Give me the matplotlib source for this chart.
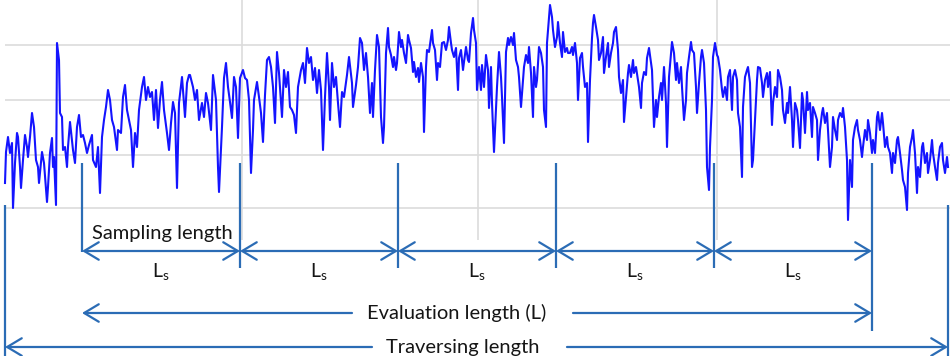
import matplotlib
matplotlib.use('Agg')
import matplotlib.pyplot as plt
import numpy as np

plt.rcParams['font.family'] = ['Lato', 'DejaVu Sans']

# surface profile readings: position along the trace and depth below the top reference
position = [
    5, 6, 8, 10, 12, 13, 15, 17, 18, 20, 21, 23, 25, 27, 28, 30, 32, 34, 36, 38,
    39, 42, 44, 47, 48, 50, 52, 53, 54, 56, 57, 59, 60, 62, 63, 65, 67, 68, 70, 72,
    73, 75, 77, 79, 81, 83, 85, 87, 89, 92, 93, 96, 98, 100, 102, 104, 106, 108, 110, 112,
    114, 117, 118, 121, 123, 125, 127, 129, 131, 133, 135, 137, 139, 142, 144, 146, 148, 150, 152, 154,
    156, 158, 160, 162, 164, 167, 169, 171, 173, 175, 177, 179, 182, 183, 185, 187, 189,
    190, 193, 195, 197, 199, 202, 204, 206, 208, 211, 213, 216, 218, 219, 222, 224, 226, 228, 230, 232,
    234, 236, 238, 240, 243, 245, 247, 249, 251, 253, 254, 257, 259, 261, 263, 265, 267, 269, 271, 273,
    275, 277, 279, 282, 284, 286, 288, 290, 292, 294, 296, 298, 301, 303, 305, 307, 309, 311, 313, 315,
    317, 319, 321, 323, 325, 327, 329, 330, 332, 334, 336, 338, 340, 342, 344, 347, 349, 352, 353, 356,
    358, 360, 362, 364, 366, 368, 370, 372, 373, 375, 377, 379,
    381, 383, 384, 386, 388, 389, 391, 393, 394, 396, 397, 399, 401, 402, 404, 406, 408, 409, 411, 413,
    414, 416, 418, 419, 421, 423, 424, 426, 427, 429, 432, 433, 435, 437, 438, 440, 442, 444, 446, 448,
    449, 451, 452, 454, 456, 458, 459, 461, 463, 464, 466, 468, 469, 471, 473, 474, 476, 477, 479, 481,
    482, 484, 486, 488, 489, 491, 492, 494, 496, 497, 499, 501, 502, 504, 506, 508, 509, 511, 513, 514,
    516, 518, 519, 521, 523, 524, 526, 528, 529, 531, 533, 534, 536, 537, 539, 541, 543, 544, 546, 547,
    549, 550, 552, 553, 555, 557, 558, 560, 562, 563, 565, 567, 568,
    570, 572, 573, 575, 577, 578, 580, 582, 583, 585, 587, 588, 590, 592, 593, 594, 596, 598, 599, 601,
    603, 604, 606, 608, 609, 611, 613, 614, 616, 618, 619, 621, 623, 624, 626, 628, 629, 631, 633, 634,
    636, 638, 639, 641, 642, 644, 646, 647, 649, 651, 652, 654, 656, 657, 659, 661, 662, 664, 666, 667,
    669, 671, 672, 674, 676, 677, 679, 681, 682, 684, 686, 687, 689, 691, 692, 694, 696, 697, 699, 701,
    702, 704, 706, 707, 709, 710, 712, 713, 715, 717, 718, 720, 722, 723, 725, 727, 728, 730, 732, 733,
    735, 737, 738, 740, 742, 743, 745, 747, 748, 750, 752, 753, 755, 757, 758,
    760, 762, 763, 765, 767, 768, 770, 772, 773, 775, 777, 778, 780, 782, 783, 785, 787, 788, 790, 792,
    793, 795, 797, 798, 800, 802, 803, 805, 807, 808, 810, 812, 813, 815, 817, 818, 820, 822, 823, 825,
    827, 828, 830, 832, 833, 835, 837, 838, 840, 842, 843, 845, 847, 848, 850, 852, 853, 855, 857, 858,
    860, 862, 863, 865, 867, 868, 870, 872, 873, 875, 877, 878, 880, 882, 883, 885, 887, 888, 890, 892,
    893, 895, 897, 898, 900, 902, 903, 905, 907, 908, 910, 912, 913, 915, 917, 918, 920, 922, 923, 925,
    927, 928, 930, 932, 933, 935, 937, 938, 940, 942, 943, 945, 947, 948,
]
depth = [
    183, 152, 137, 153, 143, 208, 163, 133, 137, 167, 188, 160, 135, 147, 157, 137, 113, 127, 160, 167,
    183, 152, 163, 202, 187, 153, 138, 167, 157, 205, 43, 60, 113, 117, 150, 147, 167, 147, 122, 140,
    150, 163, 127, 115, 137, 135, 143, 153, 145, 135, 160, 167, 147, 193, 137, 120, 107, 90, 100, 120,
    127, 150, 130, 133, 97, 85, 110, 120, 130, 167, 133, 147, 110, 87, 77, 100, 87, 97, 92, 120,
    90, 128, 100, 82, 110, 133, 150, 123, 102, 113, 188, 103, 77, 90, 117, 83, 75,
    75, 87, 100, 90, 120, 103, 117, 93, 103, 130, 75, 100, 167, 192, 127, 78, 63, 87, 102, 118,
    77, 87, 138, 78, 70, 78, 80, 100, 173, 130, 100, 82, 97, 113, 142, 95, 60, 57, 67, 87,
    123, 52, 73, 117, 70, 87, 72, 107, 110, 115, 133, 87, 70, 63, 83, 48, 63, 57, 80, 68,
    93, 70, 90, 150, 97, 53, 87, 120, 63, 87, 77, 103, 127, 92, 97, 75, 57, 83, 107, 85,
    67, 38, 43, 70, 53, 77, 113, 83, 117, 70, 35, 47,
    117, 143, 127, 53, 28, 47, 55, 67, 57, 70, 63, 32, 47, 40, 53, 63, 35, 40, 48, 72,
    62, 77, 68, 82, 63, 77, 132, 67, 50, 52, 30, 43, 50, 80, 63, 67, 43, 42, 50, 40,
    27, 43, 50, 57, 48, 90, 58, 50, 70, 62, 47, 60, 62, 33, 18, 30, 43, 90, 67, 90,
    65, 87, 55, 70, 108, 67, 103, 152, 110, 87, 52, 77, 97, 143, 52, 38, 45, 37, 45, 33,
    60, 67, 77, 107, 80, 67, 55, 63, 47, 73, 117, 67, 87, 80, 47, 53, 67, 110, 127, 43,
    17, 5, 17, 30, 47, 37, 22, 43, 57, 32, 52, 48, 53,
    53, 47, 55, 43, 63, 100, 58, 53, 67, 87, 83, 142, 80, 38, 23, 15, 27, 40, 60, 53,
    37, 73, 57, 43, 67, 53, 43, 32, 27, 50, 77, 93, 80, 122, 97, 73, 65, 77, 60, 73,
    67, 80, 87, 108, 83, 72, 75, 58, 48, 63, 70, 127, 100, 117, 97, 83, 100, 67, 103, 147,
    77, 53, 42, 53, 80, 63, 83, 67, 87, 120, 100, 73, 57, 42, 50, 53, 87, 113, 83, 57,
    50, 63, 110, 167, 190, 147, 100, 57, 43, 55, 57, 70, 90, 97, 87, 100, 77, 70, 110, 77,
    70, 80, 113, 127, 177, 107, 77, 70, 67, 83, 167, 160, 120, 80, 67,
    68, 83, 97, 80, 73, 87, 72, 125, 103, 87, 97, 70, 77, 90, 110, 123, 103, 113, 87, 120,
    147, 103, 110, 120, 148, 93, 100, 133, 92, 110, 103, 137, 107, 113, 120, 160, 130, 113, 108, 123,
    113, 130, 167, 147, 117, 130, 140, 120, 113, 117, 108, 127, 160, 220, 160, 187, 140, 127, 120, 130,
    140, 157, 147, 130, 140, 120, 133, 153, 140, 153, 117, 112, 130, 113, 123, 147, 137, 147, 153, 173,
    153, 163, 140, 137, 153, 170, 180, 187, 210, 173, 147, 137, 130, 153, 193, 167, 177, 147, 143, 163,
    153, 173, 160, 140, 153, 167, 180, 163, 147, 143, 160, 173, 157, 167,
]
assert len(position) == len(depth), (len(position), len(depth))

# measurement lengths
traverse_start, traverse_end = 5, 948
eval_start = 82
sampling_len = 158
n_samples = 5
bounds = [eval_start + i * sampling_len for i in range(n_samples + 1)]

grid_rows = [45, 100, 155, 208]
grid_cols = [242, 478, 717]

annot = '#2b6cb5'
txt = '#151515'

fig = plt.figure(figsize=(9.5, 3.56), dpi=100)
ax = fig.add_axes([0, 0, 1, 1])
ax.set_xlim(0, 950)
ax.set_ylim(356, 0)
ax.axis('off')

ax.hlines(grid_rows, 5, 950, color='#dcdcdc', lw=1.2, zorder=0)
ax.vlines(grid_cols, 0, 240, color='#dcdcdc', lw=1.2, zorder=0)

ax.plot(position, depth, color='#1414ff', lw=1.5, zorder=3)

# vertical markers
ax.vlines([traverse_start, traverse_end], 205, 356, color=annot, lw=1.6)
ax.vlines(bounds[0], 163, 252, color=annot, lw=1.6)
ax.vlines(bounds[1:-1], 163, 268, color=annot, lw=1.6)
ax.vlines(bounds[-1], 163, 331, color=annot, lw=1.6)

arrow_kw = dict(arrowstyle='<->,head_length=0.7,head_width=0.42', color=annot,
                lw=1.6, shrinkA=0, shrinkB=0, mutation_scale=15)
one_kw = dict(arrow_kw, arrowstyle='->,head_length=0.7,head_width=0.42')

y_ls, y_eval, y_trav = 251, 313, 347
for a, b in zip(bounds[:-1], bounds[1:]):
    ax.annotate('', xy=(b, y_ls), xytext=(a, y_ls), arrowprops=arrow_kw)
    ax.text((a + b) / 2, 272, r'L$_{\mathregular{s}}$', ha='center', va='center',
            fontsize=14, color=txt)

ax.text((bounds[0] + bounds[1]) / 2 + 1, 234, 'Sampling length', ha='center', va='center',
        fontsize=14.5, color=txt)

ax.annotate('', xy=(bounds[0], y_eval), xytext=(352, y_eval), arrowprops=one_kw)
ax.annotate('', xy=(bounds[-1], y_eval), xytext=(573, y_eval), arrowprops=one_kw)
ax.text(457, y_eval, 'Evaluation length (L)', ha='center', va='center',
        fontsize=14.5, color=txt)

ax.annotate('', xy=(traverse_start, y_trav), xytext=(372, y_trav), arrowprops=one_kw)
ax.annotate('', xy=(traverse_end, y_trav), xytext=(567, y_trav), arrowprops=one_kw)
ax.text(463, y_trav, 'Traversing length', ha='center', va='center',
        fontsize=14.5, color=txt)

fig.savefig('out.png', dpi=100)
